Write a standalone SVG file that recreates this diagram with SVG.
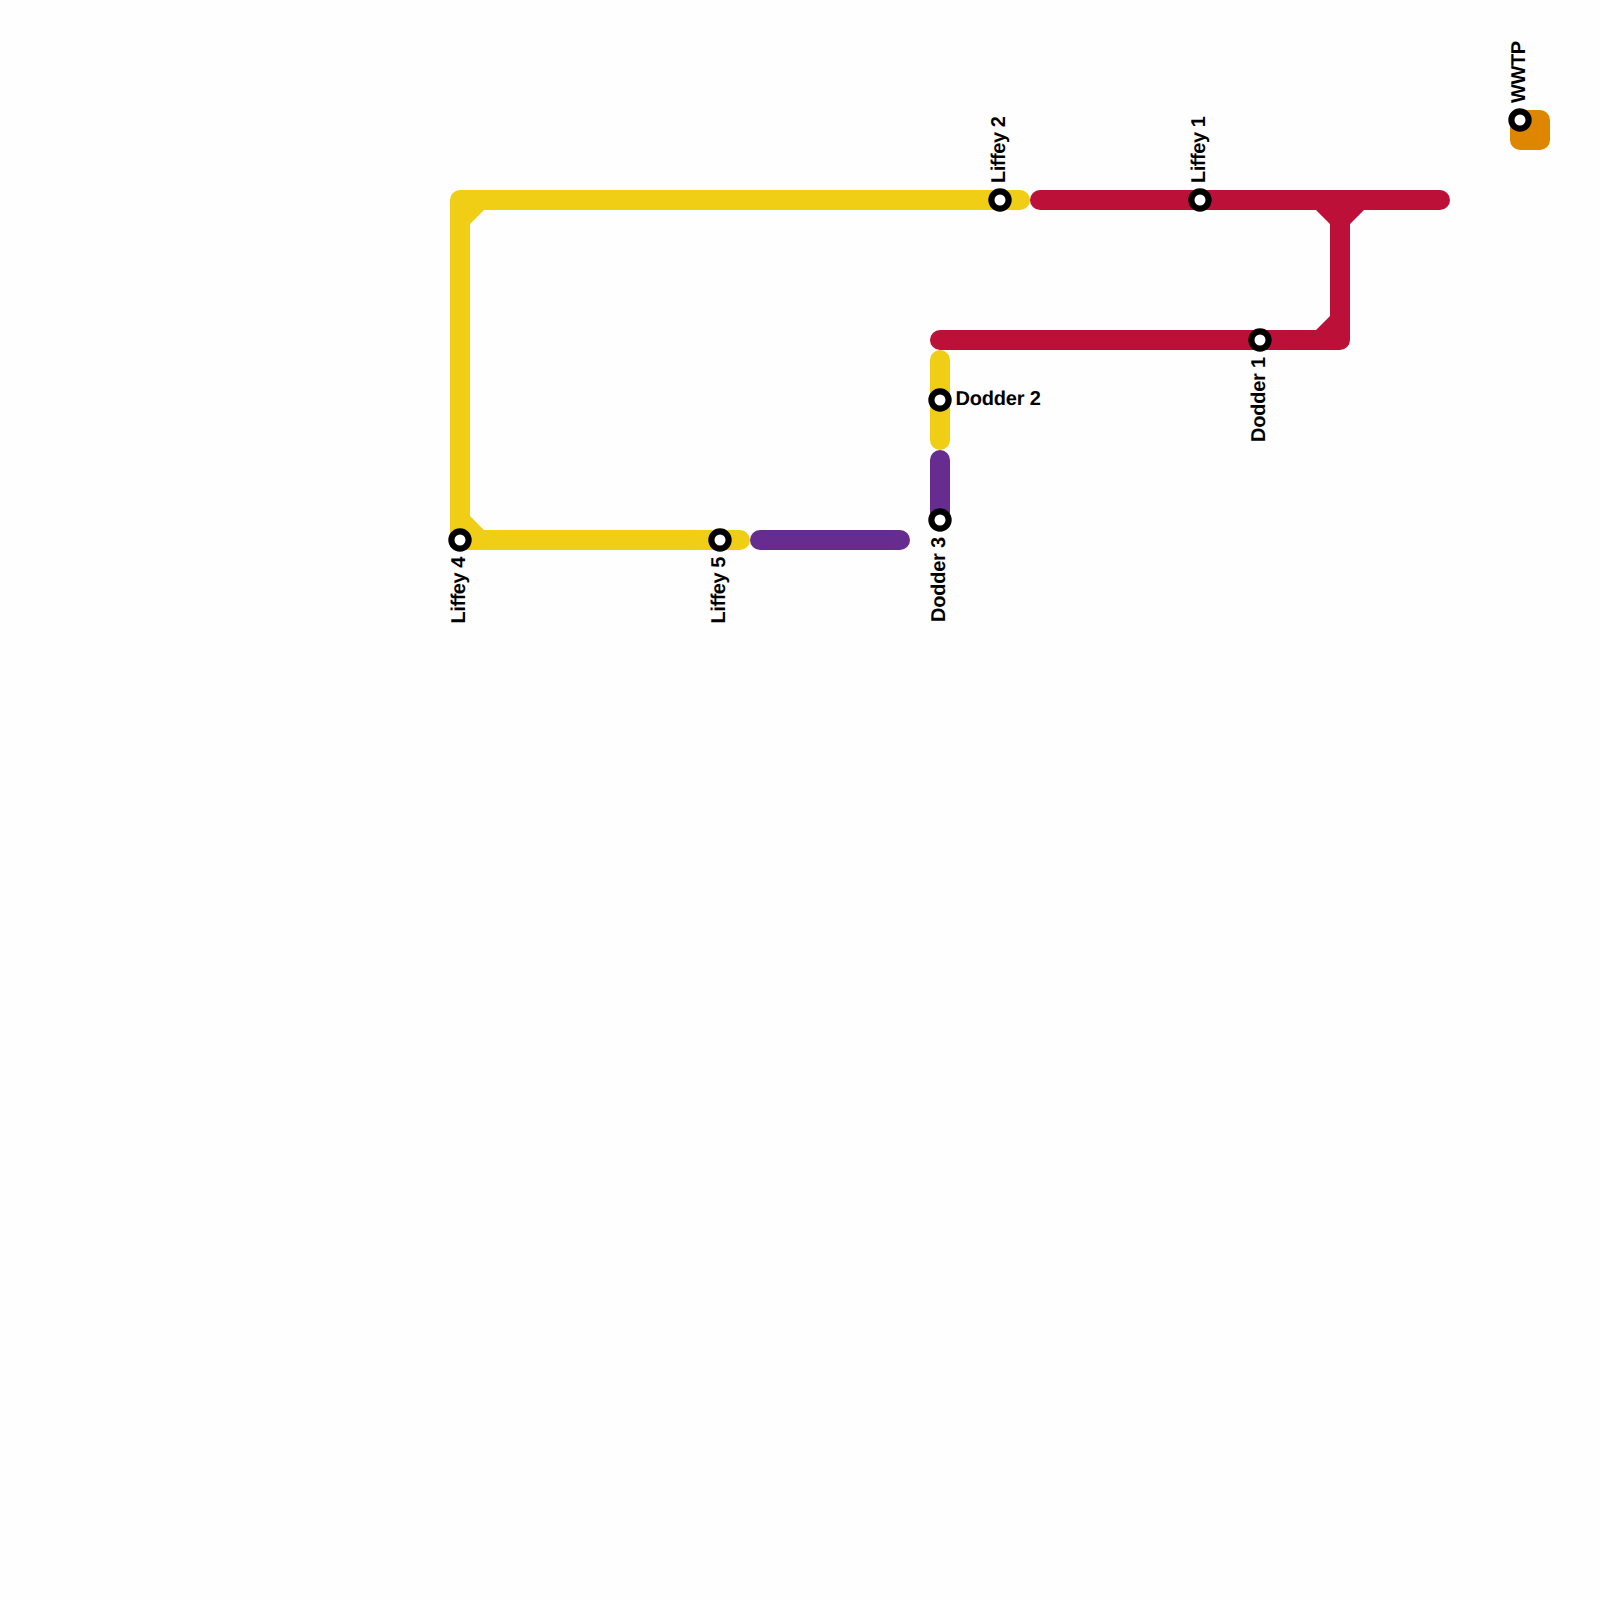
<svg xmlns="http://www.w3.org/2000/svg" width="1600" height="1600" viewBox="0 0 1600 1600">
<style>
.line{fill:none;stroke-width:20;stroke-linecap:round;stroke-linejoin:round}
.y{stroke:#f0ce15}.r{stroke:#bd1038}.p{stroke:#662c90}
.st{fill:#fff;stroke:#000;stroke-width:6.2}
text{font-family:"Liberation Sans",Arial,sans-serif;font-weight:700;font-size:20px;fill:#000;text-rendering:geometricPrecision}
.lf{letter-spacing:-.45px}.dd{letter-spacing:-.2px}.ww{letter-spacing:-.4px}
</style>
<rect width="1600" height="1600" fill="#fefefe"/>
<g id="connectors">
<path class="line y" d="M1020 200H460V540H740"/>
<path fill="#f0ce15" d="M470 224L484 210H465V224ZM470 516L484 530H465V516Z"/>
<path class="line y" d="M940 360V440"/>
<path class="line p" d="M940 460V520"/>
<path class="line p" d="M760 540H900"/>
<path class="line r" d="M1040 200H1440"/>
<path class="line r" d="M940 340H1340V200"/>
<path fill="#bd1038" d="M1316 210L1330 224H1350L1364 210ZM1330 316L1316 330H1335V316Z"/>
</g>
<g id="node-wwtp-plant"><rect x="1510" y="110" width="40" height="40" rx="10" fill="#df8600"/></g>
<g id="node-liffey-4"><circle class="st" cx="460" cy="540" r="8.6"/><text class="lf" transform="translate(465 557) rotate(-90)" text-anchor="end">Liffey 4</text></g>
<g id="node-liffey-5"><circle class="st" cx="720" cy="540" r="8.6"/><text class="lf" transform="translate(725 557) rotate(-90)" text-anchor="end">Liffey 5</text></g>
<g id="node-liffey-2"><circle class="st" cx="1000" cy="200" r="8.6"/><text class="lf" transform="translate(1005 183) rotate(-90)">Liffey 2</text></g>
<g id="node-liffey-1"><circle class="st" cx="1200" cy="200" r="8.6"/><text class="lf" transform="translate(1205 183) rotate(-90)">Liffey 1</text></g>
<g id="node-dodder-1"><circle class="st" cx="1260" cy="340" r="8.6"/><text class="dd" transform="translate(1265 357) rotate(-90)" text-anchor="end">Dodder 1</text></g>
<g id="node-dodder-2"><circle class="st" cx="940" cy="400" r="8.6"/><text class="dd" x="955.5" y="405">Dodder 2</text></g>
<g id="node-dodder-3"><circle class="st" cx="940" cy="520" r="8.6"/><text class="dd" transform="translate(945 537) rotate(-90)" text-anchor="end">Dodder 3</text></g>
<g id="node-wwtp"><circle class="st" cx="1520" cy="120" r="8.6"/><text class="ww" transform="translate(1525 103) rotate(-90)">WWTP</text></g>
</svg>
